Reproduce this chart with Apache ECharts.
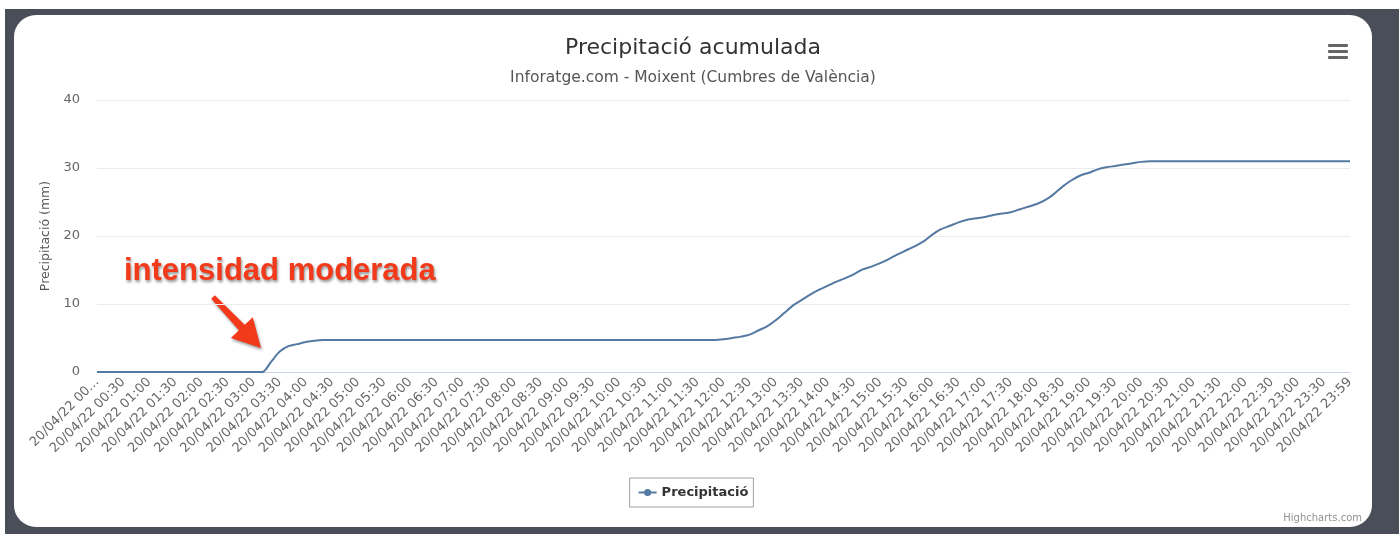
<!DOCTYPE html>
<html>
<head>
<meta charset="utf-8">
<title>Precipitació acumulada</title>
<script src="https://cdn.jsdelivr.net/npm/echarts@6/dist/echarts.min.js"></script>
<style>
    html, body {
        margin: 0;
        padding: 0;
        background: #fff;
    }
    .frame {
        position: absolute;
        left: 5px;
        top: 9px;
        width: 1394px;
        height: 525px;
        background: #4a4e59;
    }
    .card {
        position: absolute;
        left: 9px;
        top: 6px;
        width: 1358px;
        height: 512px;
        background: #fff;
        border-radius: 22px;
        overflow: hidden;
    }
    #chart {
        width: 100%;
        height: 100%;
    }
</style>
</head>
<body>
<div class="frame">
    <div class="card">
        <div id="chart"></div>
    </div>
</div>
<script>
    // precipitació acumulada (mm), un valor cada 10 minuts, una fila per hora
    const precip = [
        0, 0, 0, 0, 0, 0,                   // 00
        0, 0, 0, 0, 0, 0,                   // 01
        0, 0, 0, 0, 0, 0,                   // 02
        0, 0, 1.5, 3.0, 3.8, 4.1,           // 03
        4.4, 4.6, 4.7, 4.7, 4.7, 4.7,       // 04
        4.7, 4.7, 4.7, 4.7, 4.7, 4.7,       // 05
        4.7, 4.7, 4.7, 4.7, 4.7, 4.7,       // 06
        4.7, 4.7, 4.7, 4.7, 4.7, 4.7,       // 07
        4.7, 4.7, 4.7, 4.7, 4.7, 4.7,       // 08
        4.7, 4.7, 4.7, 4.7, 4.7, 4.7,       // 09
        4.7, 4.7, 4.7, 4.7, 4.7, 4.7,       // 10
        4.7, 4.7, 4.7, 4.7, 4.7, 4.7,       // 11
        4.8, 5.0, 5.2, 5.5, 6.1, 6.7,       // 12
        7.6, 8.7, 9.8, 10.6, 11.4, 12.1,    // 13
        12.7, 13.3, 13.8, 14.4, 15.1, 15.5, // 14
        16.0, 16.6, 17.3, 17.9, 18.5, 19.2, // 15
        20.2, 21.0, 21.5, 22.0, 22.4, 22.6, // 16
        22.8, 23.1, 23.3, 23.5, 23.9, 24.3, // 17
        24.7, 25.3, 26.2, 27.3, 28.2, 28.9, // 18
        29.3, 29.8, 30.1, 30.3, 30.5, 30.7, // 19
        30.9, 31, 31, 31, 31, 31,           // 20
        31, 31, 31, 31, 31, 31,             // 21
        31, 31, 31, 31, 31, 31,             // 22
        31, 31, 31, 31, 31, 31,             // 23
        31                                  // 23:59
    ];

    const dayLabel = '20/04/22';
    const minuteSteps = ['00', '10', '20', '30', '40', '50'];
    const lastTime = '23:59';
    const yTicks = [0, 10, 20, 30, 40];

    const categories = [];
    for (let h = 0; h < 24; h++) {
        const hh = (h < 10 ? '0' : '') + h;
        minuteSteps.forEach(function (mm) {
            categories.push(dayLabel + ' ' + hh + ':' + mm);
        });
    }
    categories.push(dayLabel + ' ' + lastTime);

    const font = '"DejaVu Sans", Verdana, sans-serif';
    const lineColor = '#5479a3';
    const red = '#f23a1b';

    // fletxa de l'anotació
    function arrowPoints(tail, tip, headLen, headHalf, tailHalf, neckHalf) {
        const dx = tip[0] - tail[0], dy = tip[1] - tail[1];
        const len = Math.sqrt(dx * dx + dy * dy);
        const ux = dx / len, uy = dy / len;
        const nx = -uy, ny = ux;
        const bx = tip[0] - ux * headLen, by = tip[1] - uy * headLen;
        return [
            [tail[0] + nx * tailHalf, tail[1] + ny * tailHalf],
            [bx + nx * neckHalf, by + ny * neckHalf],
            [bx + nx * headHalf, by + ny * headHalf],
            tip,
            [bx - nx * headHalf, by - ny * headHalf],
            [bx - nx * neckHalf, by - ny * neckHalf],
            [tail[0] - nx * tailHalf, tail[1] - ny * tailHalf]
        ];
    }

    const chart = echarts.init(document.getElementById('chart'));
    chart.setOption({
        animation: false,
        textStyle: {
            fontFamily: font
        },
        title: [{
            text: 'Precipitació acumulada',
            left: 'center',
            top: 17,
            textStyle: {
                fontFamily: font,
                fontSize: 22,
                fontWeight: 'normal',
                color: '#333333'
            }
        }, {
            text: 'Inforatge.com - Moixent (Cumbres de València)',
            left: 'center',
            top: 50,
            textStyle: {
                fontFamily: font,
                fontSize: 15.5,
                fontWeight: 'normal',
                color: '#555555'
            }
        }],
        legend: {
            left: 'center',
            top: 463,
            padding: [8, 5, 8, 8],
            borderColor: '#a0a0a0',
            borderWidth: 1,
            borderRadius: 0,
            itemWidth: 18,
            itemHeight: 9,
            itemGap: 6,
            textStyle: {
                fontFamily: font,
                fontSize: 13,
                fontWeight: 'bold',
                color: '#333333'
            },
            data: ['Precipitació']
        },
        grid: {
            left: 83,
            right: 22,
            top: 85,
            bottom: 155,
            containLabel: false
        },
        xAxis: {
            type: 'category',
            boundaryGap: false,
            data: categories,
            axisLine: {
                show: true,
                lineStyle: { color: '#c8d4e4', width: 1 }
            },
            axisTick: { show: false },
            splitLine: { show: false },
            axisLabel: {
                interval: 2,
                rotate: 45,
                margin: 8,
                fontFamily: font,
                fontSize: 13,
                color: '#666666',
                formatter: function (value, idx) {
                    return idx === 0 ? value.slice(0, 11) + '...' : value;
                }
            }
        },
        yAxis: {
            type: 'value',
            min: yTicks[0],
            max: yTicks[yTicks.length - 1],
            interval: 10,
            name: 'Precipitació (mm)',
            nameLocation: 'middle',
            nameGap: 44,
            nameTextStyle: {
                fontFamily: font,
                fontSize: 12.5,
                color: '#555555'
            },
            axisLine: { show: false },
            axisTick: { show: false },
            axisLabel: {
                margin: 17,
                fontFamily: font,
                fontSize: 13,
                color: '#666666'
            },
            splitLine: {
                lineStyle: { color: '#ececec', width: 1 }
            }
        },
        series: [{
            name: 'Precipitació',
            type: 'line',
            data: precip,
            smooth: 0.3,
            symbol: 'circle',
            symbolSize: 8,
            showSymbol: false,
            lineStyle: { color: lineColor, width: 2 },
            itemStyle: { color: lineColor }
        }],
        graphic: [{
            type: 'text',
            left: 110,
            top: 241,
            style: {
                text: 'intensidad moderada',
                font: 'bold 31px "Liberation Sans", Arial, sans-serif',
                fill: red,
                textShadowColor: 'rgba(0,0,0,0.45)',
                textShadowBlur: 3,
                textShadowOffsetX: 1,
                textShadowOffsetY: 2
            }
        }, {
            type: 'polygon',
            shape: {
                points: arrowPoints([199, 282], [247, 333], 28, 15, 2.5, 4)
            },
            style: {
                fill: red,
                shadowColor: 'rgba(0,0,0,0.4)',
                shadowBlur: 3,
                shadowOffsetX: 1,
                shadowOffsetY: 2
            }
        }, {
            type: 'group',
            left: 1314,
            top: 29,
            children: [0, 6, 12].map(function (y) {
                return {
                    type: 'rect',
                    shape: { x: 0, y: y, width: 20, height: 3, r: 1 },
                    style: { fill: '#666666' }
                };
            })
        }, {
            type: 'text',
            right: 10,
            top: 498,
            style: {
                text: 'Highcharts.com',
                font: '10px "DejaVu Sans", Verdana, sans-serif',
                fill: '#909090'
            }
        }]
    });
</script>
</body>
</html>
